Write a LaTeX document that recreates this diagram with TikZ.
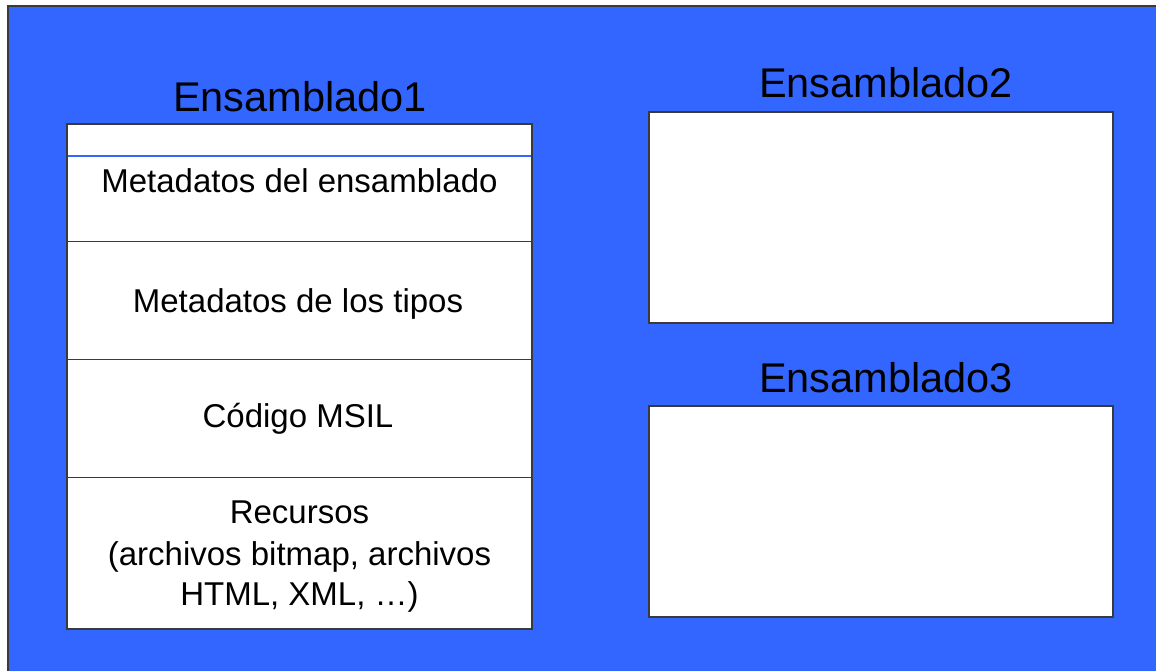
\documentclass[tikz,border=0pt]{standalone}
\usepackage{fontspec}
\setmainfont{Liberation Sans}
\definecolor{bgblue}{HTML}{3366FF}
\definecolor{edgegray}{HTML}{3A3A3A}
\tikzset{
  panel/.style={draw=edgegray, line width=1.4pt, fill=white},
  title/.style={anchor=base, inner sep=0pt, font=\fontsize{41.5}{48}\selectfont},
  label/.style={anchor=base, inner sep=0pt, font=\fontsize{33}{41}\selectfont},
}
\begin{document}
\begin{tikzpicture}[x=1pt,y=-1pt]
\useasboundingbox (0,0) rectangle (1156,671);
\fill[white] (0,0) rectangle (1156,671);
\fill[bgblue] (8,6) rectangle (1156,671);
\draw[edgegray, line width=1.2pt] (8,671) -- (8,6) -- (1156,6);
% left assembly
\draw[panel] (67,124) rectangle (532,629);
\draw[bgblue, line width=1.3pt] (67.7,156) -- (531.3,156);
\draw[edgegray, line width=1pt] (67,241) -- (532,241);
\draw[edgegray, line width=1pt] (67,359) -- (532,359);
\draw[edgegray, line width=1pt] (67,477) -- (532,477);
% right assemblies
\draw[panel] (649,112) rectangle (1113,323);
\draw[panel] (649,406) rectangle (1113,617);
% titles
\node[title] (t1) at (300,112) {Ensamblado1};
\node[title] (t2) at (886,98) {Ensamblado2};
\node[title] (t3) at (886,392) {Ensamblado3};
% labels
\node[label] (l1) at (299.5,193) {Metadatos del ensamblado};
\node[label] (l2) at (298,312) {Metadatos de los tipos};
\node[label] (l3) at (298,427) {Código MSIL};
\node[label] (l4a) at (299.5,523) {Recursos};
\node[label] (l4b) at (299.5,565) {(archivos bitmap, archivos};
\node[label] (l4c) at (299.5,605) {HTML, XML, …)};
\end{tikzpicture}
\end{document}
